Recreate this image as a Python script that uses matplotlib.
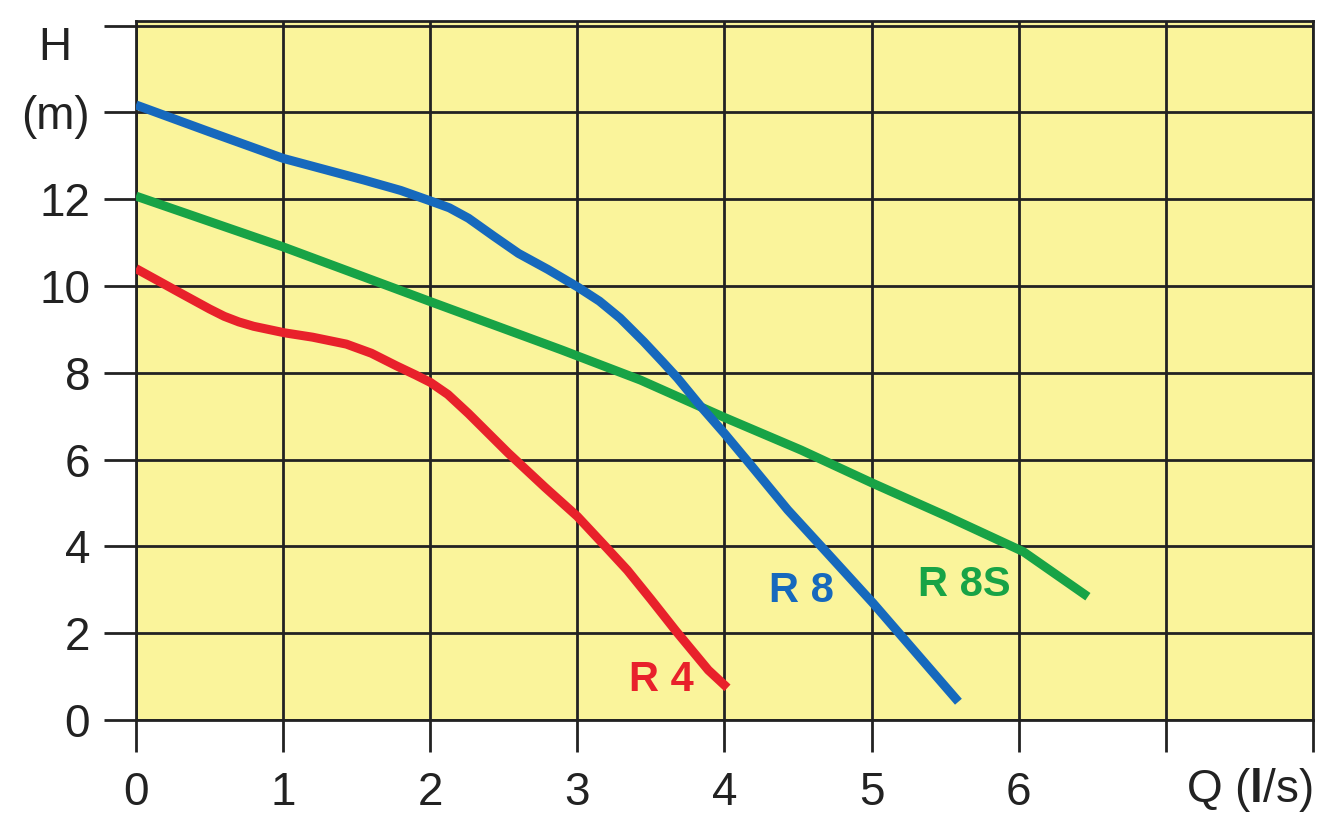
import matplotlib
matplotlib.use("Agg")
import matplotlib.pyplot as plt
import matplotlib.transforms as mtransforms

plt.rcParams["font.family"] = ["Liberation Sans", "DejaVu Sans"]
plt.rcParams["mathtext.fontset"] = "custom"
plt.rcParams["mathtext.rm"] = "Liberation Sans"
plt.rcParams["mathtext.bf"] = "Liberation Sans:bold"

YELLOW = "#faf49b"
GRID = "#222222"
RED = "#e8212b"
BLUE = "#1669bd"
GREEN = "#18a346"

# pump curves: flow Q (l/s) vs head H (m)
r4_q = [0.0, 0.30, 0.50, 0.60, 0.70, 0.80, 1.01, 1.20, 1.43, 1.60, 1.77, 1.90,
        2.00, 2.12, 2.26, 2.53, 2.78, 3.00, 3.19, 3.34, 3.50, 3.67, 3.89, 4.02]
r4_h = [10.4, 9.84, 9.47, 9.30, 9.17, 9.07, 8.92, 8.82, 8.66, 8.45, 8.16, 7.95,
        7.78, 7.50, 7.06, 6.15, 5.36, 4.69, 4.00, 3.45, 2.78, 2.05, 1.15, 0.74]

r8_q = [0.0, 0.50, 1.00, 1.55, 1.80, 2.00, 2.13, 2.26, 2.43, 2.60, 2.80, 3.00,
        3.15, 3.29, 3.45, 3.58, 3.68, 3.84, 4.00, 4.16, 4.43, 4.66, 5.01, 5.59]
r8_h = [14.17, 13.55, 12.94, 12.44, 12.20, 11.96, 11.80, 11.56, 11.15, 10.75, 10.38, 9.98,
        9.65, 9.26, 8.72, 8.25, 7.88, 7.22, 6.60, 5.95, 4.84, 3.99, 2.69, 0.42]

r8s_q = [0.0, 1.00, 2.00, 2.89, 3.43, 4.00, 4.52, 5.01, 5.52, 6.03, 6.47]
r8s_h = [12.07, 10.9, 9.64, 8.53, 7.83, 6.97, 6.22, 5.45, 4.68, 3.88, 2.84]

x_ticks = [0, 1, 2, 3, 4, 5, 6, 7, 8]
x_labels = ["0", "1", "2", "3", "4", "5", "6", "", ""]
y_ticks = [0, 2, 4, 6, 8, 10, 12, 14, 16]
y_labels = ["0", "2", "4", "6", "8", "10", "12", "(m)", ""]

curve_labels = [("R 4", 3.57, 0.92, RED), ("R 8", 4.52, 2.96, BLUE), ("R 8S", 5.63, 3.11, GREEN)]

fig = plt.figure(figsize=(13.2, 8.15), dpi=100)
ax = fig.add_axes([0.103, 0.1166, 0.8917, 0.8574])
ax.set_facecolor(YELLOW)

for q, h, c in [(r4_q, r4_h, RED), (r8s_q, r8s_h, GREEN), (r8_q, r8_h, BLUE)]:
    ax.plot(q, h, color=c, linewidth=6.5, solid_capstyle="butt", solid_joinstyle="round", zorder=3)

for text, x, y, c in curve_labels:
    ax.text(x, y, text, color=c, fontsize=30, fontweight="bold", ha="center", va="center", zorder=4)

ax.set_xlim(0, 8)
ax.set_ylim(0, 16.1)
ax.set_xticks(x_ticks)
ax.set_xticklabels(x_labels)
ax.set_yticks(y_ticks)
ax.set_yticklabels(y_labels)
ax.grid(True, color=GRID, linewidth=2.0, zorder=1)
ax.set_axisbelow(True)
for sp in ax.spines.values():
    sp.set_color(GRID)
    sp.set_linewidth(2.0)
ax.tick_params(axis="both", direction="out", length=23, width=2.0, color=GRID,
               labelsize=33, labelcolor="#222222")
ax.tick_params(axis="y", pad=10)
ax.tick_params(axis="x", pad=14)

# axis titles placed like the original: H above (m), Q (l/s) at the x end
fig.text(0.0417, 0.941, "H", fontsize=33, color="#222222", ha="center", va="center")
trans = mtransforms.blended_transform_factory(ax.transData, fig.transFigure)
ax.text(8, 0.031, r"Q ($\mathbf{l}$/s)", transform=trans, fontsize=33, color="#222222",
        ha="right", va="center")

fig.savefig("out.png", dpi=100)
